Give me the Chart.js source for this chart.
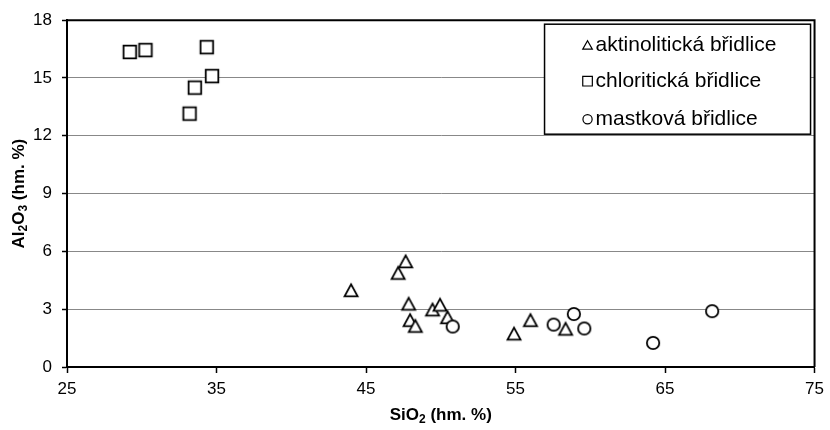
<!DOCTYPE html>
<html>
<head>
<meta charset="utf-8">
<script src="https://cdn.jsdelivr.net/npm/chart.js@4/dist/chart.umd.min.js"></script>
<style>
  html, body { margin: 0; padding: 0; background: #fff; }
  canvas { display: block; }
</style>
</head>
<body>
<canvas id="c" width="830" height="430" style="width:830px;height:430px"></canvas>
<script>
// Series names (legend order)
const seriesNames = ['aktinolitická břidlice', 'chloritická břidlice', 'mastková břidlice'];

// aktinolitická břidlice: SiO2 vs Al2O3 (hm. %)
const aktinoSiO2  = [47.65, 47.15, 44.0, 47.85, 47.95, 48.3, 49.45, 49.95, 50.45, 54.9, 56.0, 58.35];
const aktinoAl2O3 = [5.5,   4.9,   4.0,  3.3,   2.45,  2.15, 3.0,   3.25,  2.6,   1.75, 2.45, 2.0];

// chloritická břidlice
const chloritSiO2  = [29.2,  30.25, 34.35, 34.7, 33.55, 33.2];
const chloritAl2O3 = [16.35, 16.45, 16.6,  15.1, 14.5,  13.15];

// mastková břidlice
const mastekSiO2  = [50.8, 57.55, 58.9, 59.6, 64.2, 68.15];
const mastekAl2O3 = [2.1,  2.2,   2.75, 2.0,  1.25, 2.9];

// Axis ticks
const xTicks = [25, 35, 45, 55, 65, 75];
const yTicks = [0, 3, 6, 9, 12, 15, 18];

const FONT = "'Liberation Sans', Arial, Helvetica, sans-serif";
Chart.defaults.font.family = FONT;

// Hollow marker images (white fill, black outline)
function makeMarker(kind) {
  const s = 18, m = s / 2, lw = 1.8;
  const c = document.createElement('canvas');
  c.width = s; c.height = s;
  const g = c.getContext('2d');
  g.lineWidth = lw; g.strokeStyle = '#000'; g.fillStyle = '#fff';
  g.lineJoin = 'miter';
  g.beginPath();
  if (kind === 'square') {
    g.rect(m - 6.3, m - 6.3, 12.6, 12.6);
  } else if (kind === 'circle') {
    g.arc(m, m, 6.2, 0, Math.PI * 2);
  } else {
    g.moveTo(m, m - 5.6);
    g.lineTo(m + 6.5, m + 6.3);
    g.lineTo(m - 6.5, m + 6.3);
    g.closePath();
  }
  g.fill(); g.stroke();
  return c;
}

function zip(xs, ys) { return xs.map((x, i) => ({ x: x, y: ys[i] })); }

const markerKinds = ['triangle', 'square', 'circle'];

// Legend drawn as a framed box inside the plot area
const legendBox = {
  id: 'legendBox',
  afterDatasetsDraw(chart) {
    const { ctx, chartArea } = chart;
    const w = 266, h = 110;
    const left = chartArea.right - 4 - w, top = chartArea.top + 4;
    ctx.save();
    ctx.fillStyle = '#fff';
    ctx.fillRect(left, top, w, h);
    ctx.lineWidth = 1.5;
    ctx.strokeStyle = '#000';
    ctx.strokeRect(left, top, w, h);
    const baselines = [27, 63, 101];
    chart.data.datasets.forEach((ds, i) => {
      const by = top + baselines[i];
      const mx = left + 43, my = by - 6;
      ctx.lineWidth = 1.2;
      ctx.strokeStyle = '#000';
      ctx.beginPath();
      if (markerKinds[i] === 'triangle') {
        ctx.moveTo(mx, my - 4.5); ctx.lineTo(mx + 4.8, my + 4); ctx.lineTo(mx - 4.8, my + 4); ctx.closePath();
      } else if (markerKinds[i] === 'square') {
        ctx.rect(mx - 4.8, my - 4.8, 9.6, 9.6);
      } else {
        ctx.arc(mx, my, 4.6, 0, Math.PI * 2);
      }
      ctx.stroke();
      ctx.fillStyle = '#000';
      ctx.font = '21px ' + FONT;
      ctx.textAlign = 'left';
      ctx.textBaseline = 'alphabetic';
      ctx.fillText(ds.label, left + 51, by);
    });
    ctx.restore();
  }
};

// Top and right edges of the plot frame
const plotFrame = {
  id: 'plotFrame',
  beforeDatasetsDraw(chart) {
    const { ctx, chartArea: a } = chart;
    ctx.save();
    ctx.strokeStyle = '#000';
    ctx.lineWidth = 2;
    ctx.beginPath();
    ctx.moveTo(a.left, a.top); ctx.lineTo(a.right, a.top); ctx.lineTo(a.right, a.bottom);
    ctx.stroke();
    ctx.restore();
  }
};

// Axis titles with subscripted digits
function drawRich(ctx, segs, cx, baseline) {
  let total = 0;
  segs.forEach(s => { ctx.font = s.font; s.w = ctx.measureText(s.t).width; total += s.w; });
  let x = cx - total / 2;
  ctx.textAlign = 'left';
  ctx.textBaseline = 'alphabetic';
  segs.forEach(s => { ctx.font = s.font; ctx.fillText(s.t, x, baseline + (s.dy || 0)); x += s.w; });
}
const axisTitles = {
  id: 'axisTitles',
  afterDraw(chart) {
    const { ctx, chartArea: a } = chart;
    const big = 'bold 17px ' + FONT, sub = 'bold 12px ' + FONT;
    ctx.save();
    ctx.fillStyle = '#000';
    drawRich(ctx, [
      { t: 'SiO', font: big }, { t: '2', font: sub, dy: 3 }, { t: ' (hm. %)', font: big }
    ], (a.left + a.right) / 2, 420);
    ctx.translate(24, (a.top + a.bottom) / 2);
    ctx.rotate(-Math.PI / 2);
    drawRich(ctx, [
      { t: 'Al', font: big }, { t: '2', font: sub, dy: 3 }, { t: 'O', font: big },
      { t: '3', font: sub, dy: 3 }, { t: ' (hm. %)', font: big }
    ], 0, 0);
    ctx.restore();
  }
};

new Chart(document.getElementById('c'), {
  type: 'scatter',
  data: {
    datasets: [
      { label: seriesNames[0], data: zip(aktinoSiO2, aktinoAl2O3), pointStyle: makeMarker('triangle'), pointRadius: 7, order: 3 },
      { label: seriesNames[1], data: zip(chloritSiO2, chloritAl2O3), pointStyle: makeMarker('square'), pointRadius: 7, order: 2 },
      { label: seriesNames[2], data: zip(mastekSiO2, mastekAl2O3), pointStyle: makeMarker('circle'), pointRadius: 7, order: 1 }
    ]
  },
  options: {
    responsive: false,
    animation: false,
    devicePixelRatio: 1,
    layout: { padding: { top: 15, right: 13, left: 0, bottom: 0 } },
    plugins: { legend: { display: false }, tooltip: { enabled: false } },
    scales: {
      x: {
        type: 'linear',
        min: xTicks[0], max: xTicks[xTicks.length - 1],
        afterBuildTicks(s) { s.ticks = xTicks.map(v => ({ value: v })); },
        afterFit(s) { s.height = 63; },
        grid: { drawOnChartArea: false, tickLength: 6, tickColor: '#000', tickWidth: 1.5 },
        border: { display: true, color: '#000', width: 2 },
        ticks: { color: '#000', font: { size: 17 }, padding: 6, autoSkip: false, maxRotation: 0 }
      },
      y: {
        type: 'linear',
        min: yTicks[0], max: yTicks[yTicks.length - 1],
        afterBuildTicks(s) { s.ticks = yTicks.map(v => ({ value: v })); },
        afterFit(s) { s.width = 67; },
        grid: { color: '#888', lineWidth: 1, tickLength: 5, tickColor: '#000', tickWidth: 1.5 },
        border: { display: true, color: '#000', width: 2 },
        ticks: { color: '#000', font: { size: 17 }, padding: 10, autoSkip: false }
      }
    }
  },
  plugins: [plotFrame, legendBox, axisTitles]
});
</script>
</body>
</html>
